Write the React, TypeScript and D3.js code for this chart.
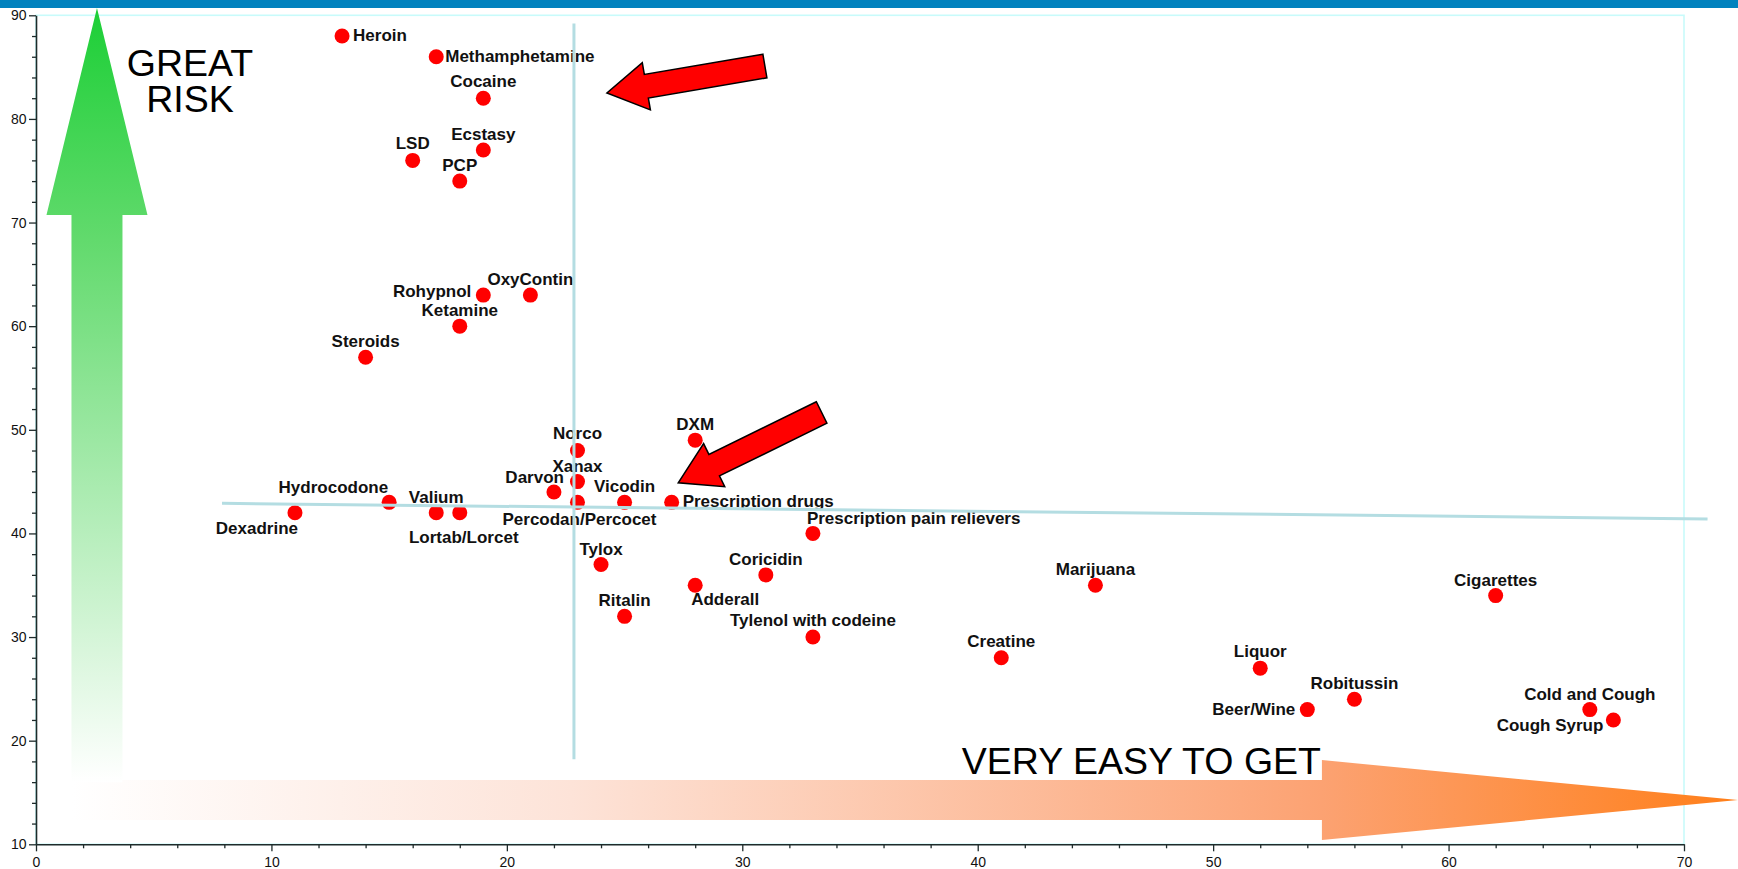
import React, { useEffect, useRef } from "react";
import * as d3 from "d3";

// ---- data ----
const drugNames = [
  "Heroin", "Methamphetamine", "Cocaine", "Ecstasy", "LSD", "PCP", "Rohypnol", "OxyContin",
  "Ketamine", "Steroids", "Norco", "DXM", "Xanax", "Darvon", "Vicodin", "Percodan/Percocet",
  "Prescription drugs", "Hydrocodone", "Dexadrine", "Valium", "Lortab/Lorcet",
  "Prescription pain relievers", "Tylox", "Coricidin", "Adderall", "Ritalin",
  "Tylenol with codeine", "Marijuana", "Creatine", "Cigarettes", "Liquor", "Robitussin",
  "Beer/Wine", "Cold and Cough", "Cough Syrup",
];
const easeToGet = [13, 17, 19, 19, 16, 18, 19, 21, 18, 14, 23, 28, 23, 22, 25, 23, 27, 15, 11, 17, 18, 33, 24, 31, 28, 25, 33, 45, 41, 62, 52, 56, 54, 66, 67];
const greatRisk = [88, 86, 82, 77, 76, 74, 63, 63, 60, 57, 48, 49, 45, 44, 43, 43, 43, 43, 42, 42, 42, 40, 37, 36, 35, 32, 30, 35, 28, 34, 27, 24, 23, 23, 22];

const xTickValues = [0, 10, 20, 30, 40, 50, 60, 70];
const yTickValues = [10, 20, 30, 40, 50, 60, 70, 80, 90];

// reference lines (data space)
const hLineX = [7.9, 71];
const hLineY = [42.9, 41.4];
const vLineX = [22.85, 22.85];
const vLineY = [18.2, 89.2];

// annotation arrows (data space): [tipX, tipY, tailX, tailY]
const redArrows = [
  [24.25, 82.5, 30.96, 85.11],
  [27.28, 44.89, 33.37, 51.67],
];

// label placement: [dx, dy, anchor]
const labelPlacement: Record<string, [number, number, string]> = {
  "Heroin": [11, 5, "start"],
  "Methamphetamine": [9, 5, "start"],
  "Cocaine": [0, -11, "middle"],
  "Ecstasy": [0, -10, "middle"],
  "LSD": [0, -11, "middle"],
  "PCP": [0, -10, "middle"],
  "Rohypnol": [-12, 2, "end"],
  "OxyContin": [0, -10, "middle"],
  "Ketamine": [0, -10, "middle"],
  "Steroids": [0, -10, "middle"],
  "Norco": [0, -12, "middle"],
  "DXM": [0, -10, "middle"],
  "Xanax": [0, -10, "middle"],
  "Darvon": [10, -9, "end"],
  "Vicodin": [0, -10, "middle"],
  "Percodan/Percocet": [2, 23, "middle"],
  "Prescription drugs": [11, 5, "start"],
  "Hydrocodone": [-1, -9, "end"],
  "Dexadrine": [3, 21, "end"],
  "Valium": [0, -10, "middle"],
  "Lortab/Lorcet": [4, 30, "middle"],
  "Prescription pain relievers": [-6, -9, "start"],
  "Tylox": [0, -10, "middle"],
  "Coricidin": [0, -10, "middle"],
  "Adderall": [-4, 20, "start"],
  "Ritalin": [0, -10, "middle"],
  "Tylenol with codeine": [0, -11, "middle"],
  "Marijuana": [0, -10, "middle"],
  "Creatine": [0, -11, "middle"],
  "Cigarettes": [0, -10, "middle"],
  "Liquor": [0, -11, "middle"],
  "Robitussin": [0, -10, "middle"],
  "Beer/Wine": [-12, 5, "end"],
  "Cold and Cough": [0, -10, "middle"],
  "Cough Syrup": [-10, 11, "end"],
};

const W = 1738;
const H = 869;
const FONT = "'Liberation Sans', Arial, Helvetica, sans-serif";
const AXIS_COLOR = "#1e2b2b";

const x = d3.scaleLinear().domain([0, 70]).range([36, 1684]);
const y = d3.scaleLinear().domain([10, 90]).range([844.3, 15.3]);

function blockArrow(tx: number, ty: number, bx: number, by: number, shaftW: number, headW: number, headL: number) {
  const dx = tx - bx, dy = ty - by;
  const L = Math.hypot(dx, dy);
  const ux = dx / L, uy = dy / L;
  const px = -uy, py = ux;
  const hx = tx - ux * headL, hy = ty - uy * headL;
  const s = shaftW / 2, h = headW / 2;
  const pts = [
    [bx + px * s, by + py * s],
    [hx + px * s, hy + py * s],
    [hx + px * h, hy + py * h],
    [tx, ty],
    [hx - px * h, hy - py * h],
    [hx - px * s, hy - py * s],
    [bx - px * s, by - py * s],
  ];
  return pts.map((p) => p.join(",")).join(" ");
}

export default function App() {
  const xAxisRef = useRef<SVGGElement>(null);
  const yAxisRef = useRef<SVGGElement>(null);
  const xMinorRef = useRef<SVGGElement>(null);
  const yMinorRef = useRef<SVGGElement>(null);

  useEffect(() => {
    const style = (g: any) => {
      g.selectAll("path.domain").attr("stroke", AXIS_COLOR).attr("stroke-width", 1.6);
      g.selectAll(".tick line").attr("stroke", AXIS_COLOR).attr("stroke-width", 1.3);
      g.selectAll(".tick text").attr("fill", "#111").attr("font-size", 14).attr("font-family", FONT);
    };
    const gx = d3.select(xAxisRef.current!);
    gx.call(d3.axisBottom(x).tickValues(xTickValues).tickSize(7).tickPadding(5.5).tickSizeOuter(0) as any);
    style(gx);
    const gy = d3.select(yAxisRef.current!);
    gy.call(d3.axisLeft(y).tickValues(yTickValues).tickSize(7).tickPadding(2.5).tickSizeOuter(0) as any);
    style(gy);

    const xMinor = d3.range(0, 71, 2).filter((v) => v % 10 !== 0);
    const yMinor = d3.range(10, 91, 2).filter((v) => v % 10 !== 0);
    const gxm = d3.select(xMinorRef.current!);
    gxm.call(d3.axisBottom(x).tickValues(xMinor).tickSize(4).tickFormat(() => "") as any);
    gxm.select("path.domain").remove();
    style(gxm);
    const gym = d3.select(yMinorRef.current!);
    gym.call(d3.axisLeft(y).tickValues(yMinor).tickSize(4).tickFormat(() => "") as any);
    gym.select("path.domain").remove();
    style(gym);
  }, []);

  const line = d3.line<[number, number]>().x((d) => x(d[0])).y((d) => y(d[1]));
  const hLine = line(hLineX.map((v, i) => [v, hLineY[i]] as [number, number]));
  const vLine = line(vLineX.map((v, i) => [v, vLineY[i]] as [number, number]));

  // green "GREAT RISK" arrow geometry (data space anchors)
  const gCx = x(2.59);
  const gTip = y(90.7);
  const gHeadBase = y(70.73);
  const gBottom = y(16.0);
  const greenPts = [
    [gCx, gTip],
    [gCx + 50.5, gHeadBase],
    [gCx + 25.5, gHeadBase],
    [gCx + 25.5, gBottom],
    [gCx - 25.5, gBottom],
    [gCx - 25.5, gHeadBase],
    [gCx - 50.5, gHeadBase],
  ].map((p) => p.join(",")).join(" ");

  // orange "VERY EASY TO GET" arrow
  const oCy = y(14.27);
  const oLeft = x(1.53);
  const oHeadBase = x(54.62);
  const oTip = x(72.29);
  const orangePts = [
    [oLeft, oCy - 20],
    [oHeadBase, oCy - 20],
    [oHeadBase, oCy - 40],
    [oTip, oCy],
    [oHeadBase, oCy + 40],
    [oHeadBase, oCy + 20],
    [oLeft, oCy + 20],
  ].map((p) => p.join(",")).join(" ");

  return (
    <div style={{ position: "absolute", left: 0, top: 0, width: W, height: H, background: "#fff" }}>
      <svg width={W} height={H} style={{ display: "block" }} fontFamily={FONT}>
        <defs>
          <linearGradient id="greenGrad" gradientUnits="userSpaceOnUse" x1={0} y1={gTip} x2={0} y2={gBottom}>
            <stop offset="0" stopColor="#1ccf36" />
            <stop offset="0.3" stopColor="#62da6d" />
            <stop offset="1" stopColor="#ffffff" />
          </linearGradient>
          <linearGradient id="orangeGrad" gradientUnits="userSpaceOnUse" x1={oLeft} y1={0} x2={oTip} y2={0}>
            <stop offset="0" stopColor="#ffffff" />
            <stop offset="0.3" stopColor="#fde3d8" />
            <stop offset="0.75" stopColor="#fca272" />
            <stop offset="1" stopColor="#ff7f1a" />
          </linearGradient>
        </defs>
        <rect x={0} y={0} width={W} height={8} fill="#0282be" />
        {/* plot frame */}
        <rect x={x(0)} y={y(90)} width={x(70) - x(0)} height={y(10) - y(90)} fill="none" stroke="#c8fbfb" strokeWidth={1.6} />

        {/* big arrows */}
        <polygon points={orangePts} fill="url(#orangeGrad)" />
        <polygon points={greenPts} fill="url(#greenGrad)" />

        <text textAnchor="middle" fontSize={37.5} fill="#000">
          <tspan x={x(6.54)} y={y(84.14)}>GREAT</tspan>
          <tspan x={x(6.54)} y={y(80.67)}>RISK</tspan>
        </text>
        <text x={x(54.58)} y={y(16.78)} textAnchor="end" fontSize={37.5} fill="#000">VERY EASY TO GET</text>

        {/* axes */}
        <g ref={xMinorRef} transform={`translate(0,${y(10)})`} />
        <g ref={yMinorRef} transform={`translate(${x(0)},0)`} />
        <g ref={xAxisRef} transform={`translate(0,${y(10)})`} />
        <g ref={yAxisRef} transform={`translate(${x(0)},0)`} />

        {/* points */}
        <g>
          {drugNames.map((name, i) => (
            <circle key={name} cx={x(easeToGet[i])} cy={y(greatRisk[i])} r={7.5} fill="#ff0000" />
          ))}
        </g>
        <g fontSize={17} fontWeight="bold" fill="#111">
          {drugNames.map((name, i) => {
            const [dx, dy, anchor] = labelPlacement[name];
            return (
              <text key={name} x={x(easeToGet[i]) + dx} y={y(greatRisk[i]) + dy} textAnchor={anchor}>
                {name}
              </text>
            );
          })}
        </g>

        {/* reference lines */}
        <path d={hLine || ""} stroke="#b4dde2" strokeWidth={3} fill="none" />
        <path d={vLine || ""} stroke="#b4dde2" strokeWidth={3} fill="none" />

        {/* red arrows */}
        {redArrows.map((a, i) => (
          <polygon
            key={i}
            points={blockArrow(x(a[0]), y(a[1]), x(a[2]), y(a[3]), 24, 48, 40)}
            fill="#ff0000"
            stroke="#000"
            strokeWidth={1.5}
            strokeLinejoin="miter"
          />
        ))}
      </svg>
    </div>
  );
}
